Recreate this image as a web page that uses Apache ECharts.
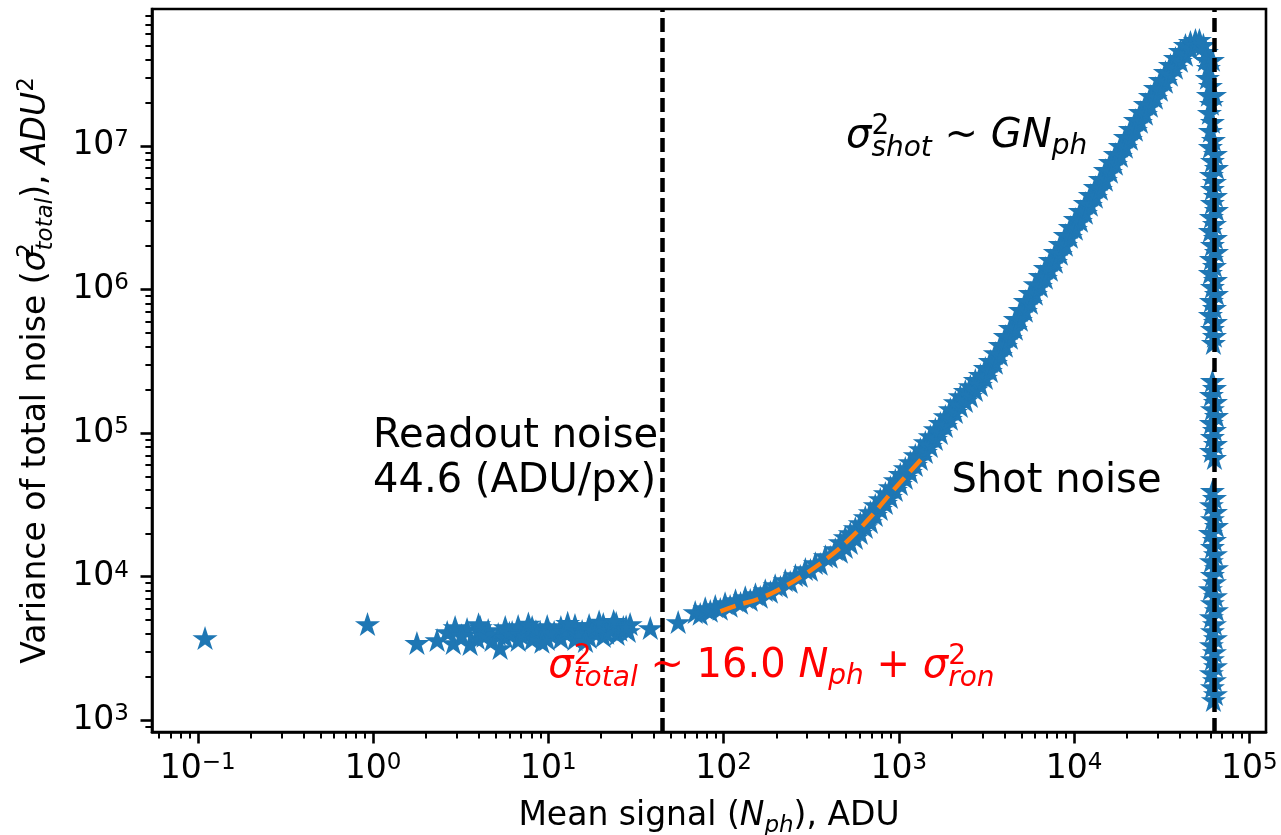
<!DOCTYPE html>
<html>
<head>
<meta charset="utf-8">
<script src="https://cdn.jsdelivr.net/npm/echarts@6.0.0/dist/echarts.min.js"></script>
<style>
  html, body { margin: 0; padding: 0; background: #fff; }
  #chart { width: 1281px; height: 835px; }
</style>
</head>
<body>
<div id="chart"></div>
<script>
// Photon transfer curve: variance of the total noise against the mean signal (log-log).

// Readout-noise floor: dark and weakly lit pixels
const readoutSignal = [0.11, 0.93, 1.78, 2.32, 2.65, 2.87, 2.94, 3.44, 3.58, 3.93, 4.09, 4.54, 4.78, 5.18, 5.31,
  5.68, 5.68, 6.22, 6.73, 6.73, 7.38, 8.09, 8.09, 8.99, 9.86, 9.86, 10.8, 11.8, 11.8, 13.0, 14.2, 14.2, 15.6,
  17.1, 17.1, 18.8, 20.6, 20.6, 22.6, 24.4, 24.7, 26.8, 28.6, 29.3, 38.2, 55.1,
  3.2, 4.3, 6.0, 7.0, 8.5, 10.3, 12.4, 14.9, 17.9, 21.5, 25.6, 27.8,
  4.0, 7.7, 9.2, 12.9, 16.3, 19.5, 23.6];
const readoutVariance = [3720, 4660, 3440, 3607, 4100, 3438, 4442, 4302, 3383, 3724, 4442, 4233, 3607, 3972, 3173,
  4442, 3784, 4100, 4514, 3607, 4100, 4442, 3665, 4100, 4514, 3665, 4100, 4442, 3724, 4167, 4587, 3665, 4167,
  4587, 3784, 4233, 4661, 3846, 4302, 4738, 3972, 4442, 4167, 4661, 4372, 4815,
  3900, 3850, 4050, 3950, 4150, 3980, 4120, 3960, 4180, 4050, 4250, 4480,
  4650, 4700, 3500, 4750, 3550, 4850, 4900];

// Knee of the curve, where shot noise starts to dominate
const kneeSignal = [68.9, 73.6, 78.6, 84.0, 89.7, 95.8, 102, 109, 117, 125, 133, 142, 152, 162, 173, 185, 197,
  211, 225, 240, 257, 274, 293, 313, 334, 356, 381, 406, 434];
const kneeVariance = [5640, 5480, 6010, 5750, 6210, 5940, 6510, 6230, 6830, 6540, 7170, 6860, 7520, 7200, 8020,
  7800, 8690, 8450, 9420, 9150, 10200, 10080, 11240, 11100, 12370, 12220, 13830, 13670, 15480];

// Shot-noise branch: upper and lower edges of the point cloud at each signal level
const shotSignal = [464, 495, 529, 565, 603, 644, 688, 734, 784, 838, 895, 955, 1020, 1089, 1163, 1242, 1327,
  1417, 1513, 1616, 1726, 1843, 1968, 2102, 2244, 2397, 2560, 2733, 2919, 3117, 3330, 3555, 3797, 4055, 4330,
  4624, 4938, 5272, 5632, 6013, 6423, 6859, 7323, 7822, 8351, 8920, 9526, 10170, 10870, 11600, 12390, 13230,
  14130, 15090, 16120, 17210, 18380, 19630, 20960, 22380, 23900, 25530, 27260, 29110, 31090, 33200, 35460,
  37870, 40440, 43190, 46110, 49250];
const shotVarianceHigh = [17360, 18800, 20050, 21720, 23530, 25910, 28070, 31410, 34580, 38080, 41910, 46890,
  51650, 56860, 62590, 70030, 77090, 86230, 94960, 106200, 117000, 130800, 146400, 163700, 180300, 195400,
  211700, 233100, 252600, 282600, 316100, 359300, 408600, 472100, 536600, 620000, 716100, 827200, 940500,
  1086000, 1235000, 1405000, 1596000, 1815000, 2063000, 2384000, 2710000, 3080000, 3501000, 3982000, 4527000,
  5146000, 5850000, 6760000, 7685000, 8737000, 9932000, 11480000, 13050000, 15080000, 17130000, 19470000,
  22150000, 25180000, 28610000, 32530000, 36410000, 40730000, 45560000, 50150000, 52650000, 54370000];
const shotVarianceLow = [14800, 16020, 17080, 18520, 20060, 22080, 23920, 26770, 29470, 32450, 35720, 39970,
  44020, 48460, 53340, 59680, 65700, 73490, 80930, 90540, 99680, 111500, 124800, 139600, 153700, 166500,
  180400, 198600, 215200, 240800, 269400, 306300, 348200, 402300, 457300, 528400, 610300, 705000, 801500,
  925800, 1052000, 1197000, 1361000, 1547000, 1758000, 2032000, 2309000, 2625000, 2984000, 3394000, 3858000,
  4386000, 4986000, 5761000, 6550000, 7446000, 8465000, 9784000, 11120000, 12850000, 14600000, 16600000,
  18880000, 21460000, 24390000, 27730000, 31030000, 34710000, 38830000, 42740000, 47060000, 50000000];

// Turn-over near full well
const peakSignal = [51900, 54700, 56900, 56160, 61580, 58430, 57660, 59990, 58430, 63230, 60780, 59210, 61580,
  59990, 62390];
const peakVariance = [54370000, 50200000, 44860000, 39470000, 39470000, 34710000, 29570000, 26000000, 22510000,
  22510000, 19490000, 16870000, 14600000, 12640000, 10940000];

// Saturated pixels: variance collapses at a nearly constant signal
const satSignal = [59990, 64060, 61580, 64910, 60780, 63230, 61580, 64060, 61580, 64910, 60780, 63230, 59990,
  64060, 61580, 64910, 60780, 63230, 59990, 64060, 61580, 64910, 60780, 63230, 59990, 64060, 61580, 63230, 62390,
  61580, 63230, 60780, 64060, 61580, 64910, 60780, 63230, 61580, 64060, 60780, 63230,
  61580, 63230, 60780, 64060, 61580, 64910, 59990, 63230, 61580, 64060, 60780, 64910, 61580, 63230, 59990,
  64060, 61580, 64910, 60780, 63230, 61580, 64060, 60780, 63230, 61580, 64060, 60780, 63230, 61580, 64060, 62390];
const satVariance = [9777000, 8740000, 7814000, 6982000, 6242000, 5579000, 4987000, 4457000, 3984000, 3561000,
  3183000, 2844000, 2543000, 2273000, 2032000, 1816000, 1623000, 1451000, 1297000, 1159000, 1036000, 926200,
  827800, 739900, 661200, 591000, 528300, 472200, 422000,
  229500, 205100, 183300, 163900, 146400, 130900, 117000, 104600, 93500, 83560, 74690, 66760,
  39330, 35160, 31420, 28090, 25100, 22440, 20060, 17930, 16030, 14320, 12800, 11440, 10230, 9141, 8171, 7302,
  6527, 5834, 5215, 4661, 4167, 3724, 3330, 2975, 2660, 2377, 2125, 1899, 1697, 1517, 1378];

// Fitted model over the knee
const fitSignal = [96, 120, 162, 219, 285, 391, 515, 688, 930, 1361];
const fitVariance = [5740, 6320, 7074, 8440, 10230, 13430, 17930, 25920, 39970, 66760];

// Reference levels: readout noise and full well
const readoutLevel = 44.6;
const fullWellLevel = 62500;

// Decade ticks (exponents of ten)
const xTickExponents = [-1, 0, 1, 2, 3, 4, 5];
const yTickExponents = [3, 4, 5, 6, 7];

// Plot limits
const xLimits = [0.0548, 124500];
const yLimits = [829, 8.96e7];

const FONT = '"DejaVu Sans", "Liberation Sans", sans-serif';
const BLUE = '#1f77b4';
const lg = Math.log10;
const STAR = 'path://M0,-1L0.2245,-0.309L0.9511,-0.309L0.3633,0.118L0.5878,0.809L0,0.382L-0.5878,0.809L-0.3633,0.118L-0.9511,-0.309L-0.2245,-0.309Z';

function toLogPoints(xs, ys) {
  return xs.map((x, i) => [lg(x), lg(ys[i])]);
}
const scatterData = [].concat(
  toLogPoints(readoutSignal, readoutVariance),
  toLogPoints(kneeSignal, kneeVariance),
  toLogPoints(shotSignal, shotVarianceHigh),
  toLogPoints(shotSignal, shotVarianceLow),
  toLogPoints(peakSignal, peakVariance),
  toLogPoints(satSignal, satVariance)
);
const fitData = toLogPoints(fitSignal, fitVariance);

// Minor ticks at 2..9 x 10^n inside the visible range
function minorTicks(lo, hi) {
  const out = [];
  for (let e = Math.floor(lo); e <= Math.ceil(hi); e++) {
    for (let k = 2; k <= 9; k++) {
      const v = e + lg(k);
      if (v > lo && v < hi) out.push(v);
    }
  }
  return out;
}

const xMin = lg(xLimits[0]), xMax = lg(xLimits[1]);
const yMin = lg(yLimits[0]), yMax = lg(yLimits[1]);

const tickRich = {
  b: { fontFamily: FONT, fontSize: 33, lineHeight: 40, color: '#000' },
  s: { fontFamily: FONT, fontSize: 23, verticalAlign: 'top', height: 28, color: '#000' }
};
const powerLabel = v => '{b|10}{s|' + String(Math.round(v)).replace('-', '\u2212') + '}';

const nameRich = {
  n: { fontFamily: FONT, fontSize: 33, lineHeight: 40, color: '#000' },
  i: { fontFamily: FONT, fontSize: 33, fontStyle: 'italic', lineHeight: 40, color: '#000' },
  sp: { fontFamily: FONT, fontSize: 23, verticalAlign: 'top', height: 23, width: 0, color: '#000' },
  spw: { fontFamily: FONT, fontSize: 23, verticalAlign: 'top', height: 23, color: '#000' },
  sb: { fontFamily: FONT, fontSize: 23, fontStyle: 'italic', verticalAlign: 'bottom', height: 20, color: '#000' }
};

function noteRich(color) {
  return {
    n: { fontFamily: FONT, fontSize: 40, lineHeight: 48, color },
    i: { fontFamily: FONT, fontSize: 40, fontStyle: 'italic', lineHeight: 48, color },
    sp: { fontFamily: FONT, fontSize: 28, verticalAlign: 'top', height: 27, width: 0, color },
    sb: { fontFamily: FONT, fontSize: 28, fontStyle: 'italic', verticalAlign: 'bottom', height: 25, color },
    sb2: { fontFamily: FONT, fontSize: 28, fontStyle: 'italic', verticalAlign: 'bottom', height: 28, color }
  };
}

function note(x, y, text, rich, dy) {
  return {
    value: [lg(x), lg(y)],
    label: {
      show: true, position: [0, 0], align: 'left', verticalAlign: 'bottom',
      offset: [0, dy], formatter: text, rich
    }
  };
}

const majorAxis = (min, max, ticks, extra) => Object.assign({
  type: 'value', min, max,
  axisLine: { show: true, onZero: false, lineStyle: { color: '#000', width: 2.6 } },
  axisTick: { show: true, customValues: ticks, length: 11.5, lineStyle: { color: '#000', width: 2.6 } },
  axisLabel: { show: true, customValues: ticks, formatter: powerLabel, rich: tickRich, fontFamily: FONT },
  splitLine: { show: false }
}, extra);

const minorAxis = (min, max, pos) => ({
  type: 'value', min, max, position: pos,
  axisLine: { show: false, onZero: false },
  axisTick: { show: true, customValues: minorTicks(min, max), length: 6.6, lineStyle: { color: '#000', width: 2 } },
  axisLabel: { show: false },
  splitLine: { show: false }
});

const chart = echarts.init(document.getElementById('chart'), null, { renderer: 'canvas' });
chart.setOption({
  animation: false,
  backgroundColor: '#fff',
  textStyle: { fontFamily: FONT },
  grid: {
    left: 152, top: 9, width: 1114, height: 723, containLabel: false, outerBoundsMode: 'none',
    show: true, borderColor: '#000', borderWidth: 2.6
  },
  xAxis: [
    majorAxis(xMin, xMax, xTickExponents, {
      position: 'bottom',
      axisLabel: { show: true, customValues: xTickExponents, formatter: powerLabel, rich: tickRich, margin: 17 },
      name: '{n|Mean signal (}{i|N}{sb|ph}{n|), ADU}',
      nameLocation: 'middle', nameGap: 64,
      nameTextStyle: { rich: nameRich, fontFamily: FONT }
    }),
    minorAxis(xMin, xMax, 'bottom')
  ],
  yAxis: [
    majorAxis(yMin, yMax, yTickExponents, {
      position: 'left',
      axisLabel: { show: true, customValues: yTickExponents, formatter: powerLabel, rich: tickRich, margin: 23 },
      name: '{n|Variance of total noise (}{i|σ}{sp|2}{sb|total}{n|), }{i|ADU}{spw|2}',
      nameLocation: 'middle', nameGap: 96, nameRotate: 90,
      nameTextStyle: { rich: nameRich, fontFamily: FONT }
    }),
    minorAxis(yMin, yMax, 'left')
  ],
  series: [
    {
      name: 'pixels', type: 'scatter', data: scatterData,
      symbol: STAR, symbolSize: 19, symbolKeepAspect: true,
      itemStyle: { color: BLUE, borderColor: BLUE, borderWidth: 2, opacity: 1 },
      emphasis: { disabled: true }, z: 2
    },
    {
      name: 'fit', type: 'line', data: fitData, smooth: 0.4, showSymbol: false,
      lineStyle: { color: '#ff7f0e', width: 4.5, type: [16, 8] },
      emphasis: { disabled: true }, z: 3
    },
    {
      name: 'levels', type: 'line', data: [], z: 4,
      markLine: {
        silent: true, symbol: 'none', label: { show: false },
        lineStyle: { color: '#000', width: 4.5, type: [14, 6] },
        data: [{ xAxis: lg(readoutLevel) }, { xAxis: lg(fullWellLevel) }]
      }
    },
    {
      name: 'notes', type: 'scatter', symbolSize: 0, z: 5,
      itemStyle: { color: 'rgba(0,0,0,0)', opacity: 1 },
      emphasis: { disabled: true },
      data: [
        note(1, 4e4, '{n|Readout noise}\n{n|44.6 (ADU/px)}', Object.assign(noteRich('#000'), {
          n: { fontFamily: FONT, fontSize: 40, lineHeight: 45, color: '#000' } }), 14),
        note(2000, 4e4, '{n|Shot noise}', noteRich('#000'), 15),
        note(500, 1e7, '{i|σ}{sp|2}{sb|shot}{n| ~ }{i|GN}{sb2|ph}', noteRich('#000'), 15),
        note(10, 2000, '{i|σ}{sp|2}{sb|total}{n| ~ 16.0 }{i|N}{sb2|ph}{n| + }{i|σ}{sp|2}{sb|ron}', noteRich('#ff0000'), 14)
      ]
    }
  ]
});
</script>
</body>
</html>
